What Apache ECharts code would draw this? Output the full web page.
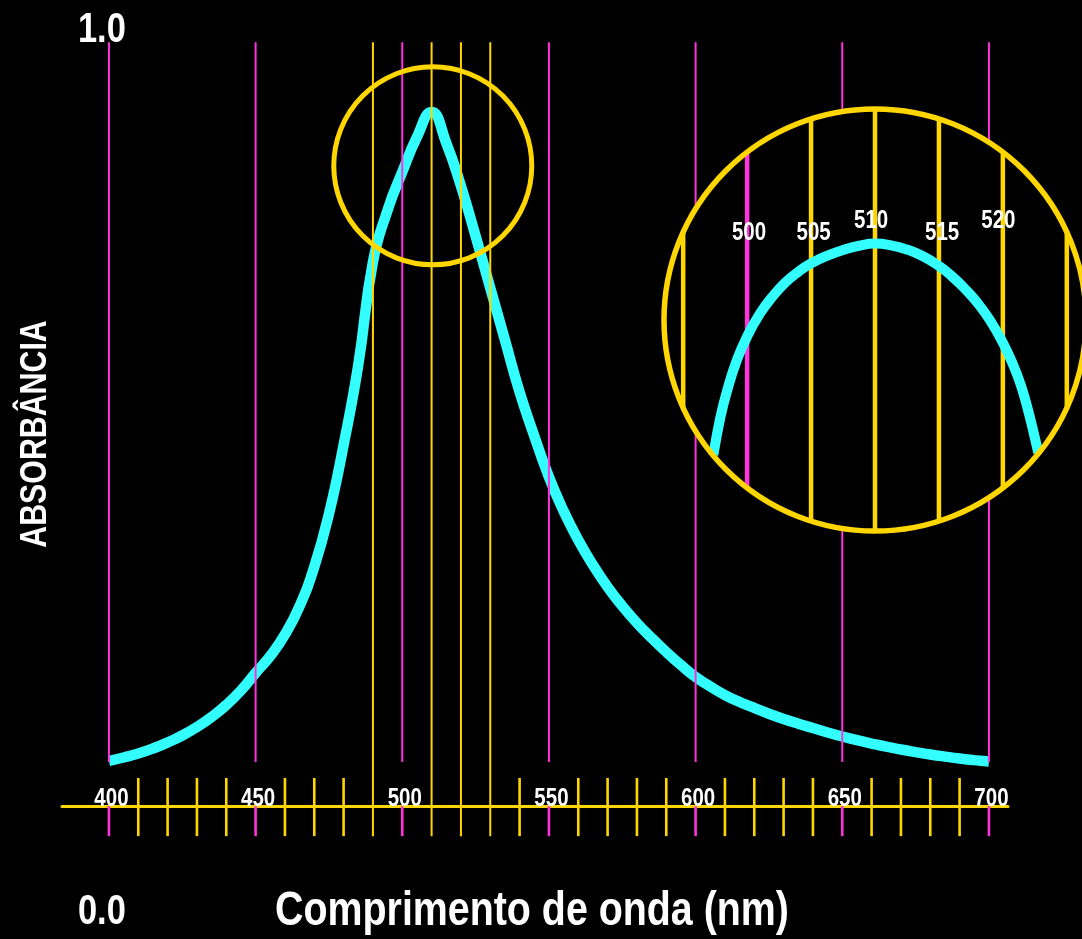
<!DOCTYPE html>
<html>
<head>
<meta charset="utf-8">
<title>Absorbância</title>
<script src="https://cdn.jsdelivr.net/npm/echarts@6/dist/echarts.min.js"></script>
<style>
html, body { margin: 0; padding: 0; background: #000; }
#chart { width: 1082px; height: 939px; }
</style>
</head>
<body>
<div id="chart"></div>
<script>
// curva principal: comprimento de onda (nm) x absorbância
const wavelengths = [400, 405, 410, 415, 420, 425, 430, 435, 440, 445, 450, 455, 460, 465, 470, 475, 480, 485, 490, 495,
  500, 505, 510, 515, 520, 525, 530, 535, 540, 545, 550, 555, 560, 565, 570, 575, 580, 585, 590, 595,
  600, 605, 610, 615, 620, 625, 630, 635, 640, 645, 650, 655, 660, 665, 670, 675, 680, 685, 690, 695, 700]
const absorbance = [0.1712, 0.1752, 0.1797, 0.1854, 0.1922, 0.2001, 0.2098, 0.2211, 0.2347, 0.2511,
  0.2710, 0.2902, 0.3146, 0.3469, 0.3912, 0.4512, 0.5295, 0.6202, 0.7370, 0.7959,
  0.8390, 0.8787, 0.9070, 0.8719, 0.8231, 0.7664, 0.7075, 0.6485, 0.5896, 0.5397,
  0.4932, 0.4546, 0.4218, 0.3934, 0.3685, 0.3469, 0.3277, 0.3107, 0.2948, 0.2800,
  0.2664, 0.2557, 0.2460, 0.2381, 0.2313, 0.2248, 0.2188, 0.2135, 0.2086, 0.2036,
  0.1990, 0.1948, 0.1910, 0.1874, 0.1842, 0.1813, 0.1786, 0.1762, 0.1740, 0.1722, 0.1706]

// eixo x
const xLabels = [400, 450, 500, 550, 600, 650, 700]
const minorTicks = [410, 420, 430, 440, 460, 470, 480, 490, 510, 520, 530, 540, 560, 570, 580, 590,
  610, 620, 630, 640, 660, 670, 680, 690]
const yellowLines = [490, 510, 520, 530]
const yLabels = [0, 1]

// detalhe ampliado do pico
const insetWavelengths = [497.36, 497.9, 498.45, 499.2, 500, 501, 502, 503, 504, 505, 506.25, 507.5, 508.75, 510,
  511.25, 512.5, 513.75, 515, 516, 517, 518, 519, 520, 520.8, 521.4, 521.9, 522.35, 522.77]
const insetAbsorbance = [0.180, 0.268, 0.334, 0.405, 0.461, 0.515, 0.556, 0.589, 0.614, 0.634, 0.652, 0.666, 0.676, 0.681,
  0.677, 0.667, 0.651, 0.628, 0.604, 0.575, 0.541, 0.499, 0.446, 0.394, 0.346, 0.294, 0.240, 0.185]
const insetYellow = [495, 505, 510, 515, 520, 525]
const insetMagenta = [500]
const insetLabels = [500, 505, 510, 515, 520]

// cores / fontes
const YELLOW = '#FFD600'
const MAGENTA = '#FF33DD'
const CYAN = '#33FFFF'
const FONT = '"Liberation Sans", Arimo, Arial, sans-serif'
const NARROW = 0.82 // texto condensado

// alturas das linhas verticais (em unidades do eixo y principal)
const LINE_TOP = 0.986
const MAJOR_END = 0.170
const TICK_TOP = 0.152
const AXIS_V = 0.120
const TICK_END = 0.086
const LABEL_V = 0.128
const Y_LABEL_NM = 397.6
// circulo pequeno em volta do pico e circulo do detalhe
const SMALL_CIRCLE = { nm: 510.4, v: 0.846, rNm: 33.75 }
const INSET_CIRCLE = { nm: 510, v: 0.5, rNm: 16.5 }
// posicao dos rotulos dentro do detalhe
const insetLabelRow = [0.707, 0.707, 0.735, 0.707, 0.735]
const insetLabelShift = [0.15, 0.2, -0.3, 0.25, -0.35]

const chart = echarts.init(document.getElementById('chart'))

// segmentos verticais: [nm, topo, base, tipo]
const segments = []
xLabels.forEach(nm => {
  segments.push([nm, LINE_TOP, MAJOR_END, 0])
  segments.push([nm, AXIS_V, TICK_END, 3])
})
minorTicks.forEach(nm => {
  if (yellowLines.indexOf(nm) >= 0) segments.push([nm, LINE_TOP, TICK_END, 1])
  else segments.push([nm, TICK_TOP, TICK_END, 2])
})
const segColor = [MAGENTA, YELLOW, YELLOW, MAGENTA]
const segWidth = [2, 2, 2.6, 2.6]

const insetLines = insetYellow.map(nm => [nm, 1]).concat(insetMagenta.map(nm => [nm, 0]))

function circleItem(circle, style) {
  return function (params, api) {
    const c = api.coord([circle.nm, circle.v])
    const r = api.size([circle.rNm, 0])[0]
    return { type: 'circle', shape: { cx: c[0], cy: c[1], r: r }, style: style }
  }
}

function narrowText(x, y, text, size) {
  return {
    type: 'text', x: x, y: y, scaleX: NARROW,
    style: { text: text, fill: '#fff', font: 'bold ' + size + 'px ' + FONT, align: 'center', verticalAlign: 'middle' },
  }
}

const option = {
  backgroundColor: '#000',
  animation: false,
  grid: [
    { left: 62, right: 74, top: 30, bottom: 27, outerBoundsMode: 'none' },
    { left: 664, top: 109, width: 422, height: 422, outerBoundsMode: 'none' },
  ],
  xAxis: [
    {
      type: 'value', gridIndex: 0, min: 384, max: 706.5, offset: -106,
      axisLine: { show: true, onZero: false, lineStyle: { color: YELLOW, width: 3 } },
      axisTick: { show: false },
      splitLine: { show: false },
      axisLabel: { show: false },
    },
    { type: 'value', gridIndex: 1, min: 493.5, max: 526.5, show: false },
  ],
  yAxis: [
    {
      type: 'value', gridIndex: 0, min: 0, max: 1, interval: 1, show: false,
      axisLine: { onZero: false },
    },
    { type: 'value', gridIndex: 1, min: 0, max: 1, show: false },
  ],
  graphic: [
    {
      type: 'text', x: 36, y: 434, rotation: Math.PI / 2, scaleX: NARROW, z: 20,
      style: { text: 'ABSORBÂNCIA', fill: '#fff', font: 'bold 37px ' + FONT, align: 'center', verticalAlign: 'middle' },
    },
    {
      type: 'text', x: 532, y: 912, scaleX: NARROW, z: 20,
      style: { text: 'Comprimento de onda (nm)', fill: '#fff', font: 'bold 48px ' + FONT, align: 'center', verticalAlign: 'middle' },
    },
  ],
  series: [
    {
      name: 'absorbância',
      type: 'line', xAxisIndex: 0, yAxisIndex: 0, z: 2,
      data: wavelengths.map((w, i) => [w, absorbance[i]]),
      smooth: 0.5, showSymbol: false, silent: true,
      lineStyle: { color: CYAN, width: 10.5 },
    },
    {
      type: 'custom', xAxisIndex: 0, yAxisIndex: 0, z: 3, silent: true,
      data: segments,
      renderItem(params, api) {
        const nm = api.value(0)
        const p1 = api.coord([nm, api.value(1)])
        const p2 = api.coord([nm, api.value(2)])
        const k = api.value(3)
        return {
          type: 'line',
          shape: { x1: p1[0], y1: p1[1], x2: p2[0], y2: p2[1] },
          style: { stroke: segColor[k], lineWidth: segWidth[k] },
        }
      },
    },
    // rotulos do eixo x
    {
      type: 'custom', xAxisIndex: 0, yAxisIndex: 0, z: 10, silent: true,
      data: xLabels.map(nm => [nm, LABEL_V]),
      renderItem(params, api) {
        const p = api.coord([api.value(0), api.value(1)])
        return narrowText(p[0] + 2.5, p[1], String(api.value(0)), 25)
      },
    },
    // rotulos do eixo y (0.0 / 1.0)
    {
      type: 'custom', xAxisIndex: 0, yAxisIndex: 0, z: 10, silent: true,
      data: yLabels.map(v => [Y_LABEL_NM, v]),
      renderItem(params, api) {
        const p = api.coord([api.value(0), api.value(1)])
        return narrowText(p[0], p[1], api.value(1).toFixed(1), 42)
      },
    },
    {
      type: 'custom', xAxisIndex: 0, yAxisIndex: 0, z: 4, silent: true,
      data: [[SMALL_CIRCLE.nm, SMALL_CIRCLE.v]],
      renderItem: circleItem(SMALL_CIRCLE, { fill: null, stroke: YELLOW, lineWidth: 5 }),
    },
    // detalhe: fundo preto
    {
      type: 'custom', xAxisIndex: 1, yAxisIndex: 1, z: 5, silent: true,
      data: [[INSET_CIRCLE.nm, INSET_CIRCLE.v]],
      renderItem: circleItem(INSET_CIRCLE, { fill: '#000', stroke: '#000', lineWidth: 5 }),
    },
    {
      type: 'custom', xAxisIndex: 1, yAxisIndex: 1, z: 6, silent: true,
      data: insetLines,
      renderItem(params, api) {
        const c = api.coord([INSET_CIRCLE.nm, INSET_CIRCLE.v])
        const r = api.size([INSET_CIRCLE.rNm, 0])[0]
        const x = api.coord([api.value(0), INSET_CIRCLE.v])[0]
        const dx = x - c[0]
        const h = Math.sqrt(Math.max(r * r - dx * dx, 0))
        return {
          type: 'line',
          shape: { x1: x, y1: c[1] - h, x2: x, y2: c[1] + h },
          style: { stroke: api.value(1) ? YELLOW : MAGENTA, lineWidth: 4.5 },
        }
      },
    },
    {
      type: 'line', xAxisIndex: 1, yAxisIndex: 1, z: 7,
      data: insetWavelengths.map((w, i) => [w, insetAbsorbance[i]]),
      smooth: 0.5, showSymbol: false, silent: true,
      lineStyle: { color: CYAN, width: 10, cap: 'butt' },
    },
    {
      type: 'custom', xAxisIndex: 1, yAxisIndex: 1, z: 8, silent: true,
      data: [[INSET_CIRCLE.nm, INSET_CIRCLE.v]],
      renderItem: circleItem(INSET_CIRCLE, { fill: null, stroke: YELLOW, lineWidth: 5.5 }),
    },
    {
      type: 'custom', xAxisIndex: 1, yAxisIndex: 1, z: 9, silent: true,
      data: insetLabels.map((nm, i) => [nm, insetLabelRow[i], insetLabelShift[i]]),
      renderItem(params, api) {
        const p = api.coord([api.value(0) + api.value(2), api.value(1)])
        return narrowText(p[0], p[1], String(api.value(0)), 25)
      },
    },
  ],
}
chart.setOption(option)
</script>
</body>
</html>
